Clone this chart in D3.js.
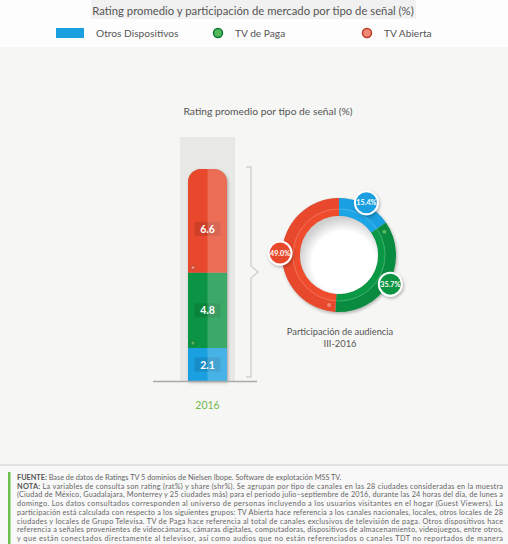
<!DOCTYPE html>
<html>
<head>
<meta charset="utf-8">
<script src="https://cdn.jsdelivr.net/npm/d3@7"></script>
<style>
body { margin: 0; background: #fff; }
svg { display: block; font-family: Lato, "Open Sans", sans-serif; }
</style>
</head>
<body>
<script>
var w = 508;
var h = 544;

// data
var seriesNames = ["Otros Dispositivos", "TV de Paga", "TV Abierta"];
var seriesColors = ["#1a9fe0", "#0b9443", "#e8492c"];
var dotColors = ["#6cc4f0", "#54b85a", "#f08878"];
var years = ["2016"];
var rating = [2.1, 4.8, 6.6];
var share = [15.4, 35.7, 49.0];
var footLines = [
  ["FUENTE:", " Base de datos de Ratings TV 5 dominios de Nielsen Ibope. Software de explotación MSS TV."],
  ["NOTA:", " La variables de consulta son rating (rat%) y share (shr%). Se agrupan por tipo de canales en las 28 ciudades consideradas en la muestra"],
  ["", "(Ciudad de México, Guadalajara, Monterrey y 25 ciudades más) para el periodo julio–septiembre de 2016, durante las 24 horas del día, de lunes a"],
  ["", "domingo. Los datos consultados corresponden al universo de personas incluyendo a los usuarios visitantes en el hogar (Guest Viewers). La"],
  ["", "participación está calculada con respecto a los siguientes grupos: TV Abierta hace referencia a los canales nacionales, locales, otros locales de 28"],
  ["", "ciudades y locales de Grupo Televisa. TV de Paga hace referencia al total de canales exclusivos de televisión de paga. Otros dispositivos hace"],
  ["", "referencia a señales provenientes de videocámaras, cámaras digitales, computadoras, dispositivos de almacenamiento, videojuegos, entre otros,"],
  ["", "y que están conectados directamente al televisor, así como audios que no están referenciados o canales TDT no reportados de manera"]
];

var svg = d3.select("body")
  .append("svg")
  .attr("width", w)
  .attr("height", h);

var defs = svg.append("defs");
var sh = defs.append("filter").attr("id", "shadow")
  .attr("x", "-30%").attr("y", "-30%").attr("width", "160%").attr("height", "160%");
sh.append("feDropShadow").attr("dx", 1).attr("dy", 1.5).attr("stdDeviation", 1.5)
  .attr("flood-color", "#000").attr("flood-opacity", 0.3);

var hole = defs.append("radialGradient").attr("id", "hole")
  .attr("cx", "56%").attr("cy", "60%").attr("r", "58%");
hole.append("stop").attr("offset", "0.7").attr("stop-color", "#ffffff");
hole.append("stop").attr("offset", "1").attr("stop-color", "#cfcfcf");

// backgrounds
svg.append("rect").attr("width", w).attr("height", h).attr("fill", "#fdfdfd");
svg.append("rect").attr("x", 91).attr("y", 0).attr("width", 325).attr("height", 19).attr("fill", "#f1f1f1");
svg.append("rect").attr("x", 0).attr("y", 47).attr("width", w).attr("height", 417).attr("fill", "#f6f6f4");
svg.append("rect").attr("x", 0).attr("y", 464).attr("width", w).attr("height", 2).attr("fill", "#e2e2e2");
svg.append("rect").attr("x", 0).attr("y", 466).attr("width", w).attr("height", 78).attr("fill", "#f8f8f8");

svg.append("text")
  .attr("x", 253).attr("y", 15)
  .attr("text-anchor", "middle")
  .attr("font-size", 11.3)
  .attr("fill", "#555")
  .text("Rating promedio y participación de mercado por tipo de señal (%)");

// legend
var legX = [56, 213, 362];
var leg = svg.selectAll(".leg")
  .data(seriesNames)
  .enter()
  .append("g")
  .attr("transform", function(d, i){ return "translate(" + legX[i] + ",33)"; });
leg.each(function(d, i){
  var g = d3.select(this);
  if(i == 0){
    g.append("rect").attr("x", 0).attr("y", -5).attr("width", 28).attr("height", 10).attr("fill", seriesColors[i]);
  } else {
    g.append("circle").attr("cx", 5).attr("cy", 0).attr("r", 4.5)
      .attr("fill", dotColors[i]).attr("stroke", d3.color(seriesColors[i]).darker(0.6)).attr("stroke-width", 1.5);
  }
  g.append("text").attr("x", i == 0 ? 40 : 22).attr("y", 3.5)
    .attr("font-size", 10.2).attr("fill", "#555").text(d);
});

svg.append("text")
  .attr("x", 268).attr("y", 115)
  .attr("text-anchor", "middle")
  .attr("font-size", 10.3)
  .attr("fill", "#555")
  .text("Rating promedio por tipo de señal (%)");

// stacked bar
var total = d3.sum(rating);
var y = d3.scaleLinear().domain([0, total]).range([381, 169]);
var x = d3.scaleBand().domain(years).range([180, 235]);
var inset = 8;
var bx = x(years[0]) + inset;
var bw = x.bandwidth() - 2*inset;
var rad = 13;

svg.append("rect")
  .attr("x", x(years[0])).attr("y", 137)
  .attr("width", x.bandwidth()).attr("height", 381 - 137)
  .attr("fill", "#e8e8e7");

var stackData = [];
var cum = 0;
for(var i = 0; i<rating.length; i++){
  stackData.push({v: rating[i], y0: cum, y1: cum + rating[i], i: i});
  cum += rating[i];
}

var shape = "M" + bx + "," + y(0) +
  "V" + (y(total) + rad) +
  "A" + rad + "," + rad + " 0 0 1 " + (bx + rad) + "," + y(total) +
  "H" + (bx + bw - rad) +
  "A" + rad + "," + rad + " 0 0 1 " + (bx + bw) + "," + (y(total) + rad) +
  "V" + y(0) + "Z";
defs.append("clipPath").attr("id", "barclip").append("path").attr("d", shape);

svg.append("path").attr("d", shape).attr("fill", "#999").attr("filter", "url(#shadow)");

var bar = svg.append("g").attr("clip-path", "url(#barclip)");
bar.selectAll(".seg")
  .data(stackData)
  .enter()
  .append("rect")
  .attr("x", bx)
  .attr("y", function(d){ return y(d.y1); })
  .attr("width", bw)
  .attr("height", function(d){ return y(d.y0) - y(d.y1); })
  .attr("fill", function(d){ return seriesColors[d.i]; });

function labelY(d){
  var m = y((d.y0 + d.y1)/2);
  return d.i == stackData.length - 1 ? m + 8 : m;
}

bar.selectAll(".lbox")
  .data(stackData)
  .enter()
  .append("rect")
  .attr("x", bx + bw/2 - 13)
  .attr("y", function(d){ return labelY(d) - 7; })
  .attr("width", 26)
  .attr("height", 14)
  .attr("fill", function(d){ return d3.color(seriesColors[d.i]).darker(0.35); });

bar.append("rect")
  .attr("x", bx + bw/2).attr("y", y(total))
  .attr("width", bw/2).attr("height", y(0) - y(total))
  .attr("fill", "#fff").attr("opacity", 0.2);

bar.selectAll(".dot")
  .data(stackData.filter(function(d){ return d.i > 0; }))
  .enter()
  .append("circle")
  .attr("cx", bx + 5)
  .attr("cy", function(d){ return y(d.y0) - 5; })
  .attr("r", 2.2)
  .attr("fill", function(d){ return dotColors[d.i]; })
  .attr("stroke", function(d){ return d3.color(seriesColors[d.i]).darker(0.8); })
  .attr("stroke-width", 0.8);

svg.selectAll(".val")
  .data(stackData)
  .enter()
  .append("text")
  .attr("x", bx + bw/2)
  .attr("y", function(d){ return labelY(d) + 4; })
  .attr("text-anchor", "middle")
  .attr("font-size", 10.5)
  .attr("font-weight", "bold")
  .attr("fill", "#fff")
  .text(function(d){ return d.v.toFixed(1); });

svg.append("line")
  .attr("x1", 153).attr("x2", 257)
  .attr("y1", y(0) + 0.5).attr("y2", y(0) + 0.5)
  .attr("stroke", "#aaa").attr("stroke-width", 1.5);

svg.append("text")
  .attr("x", x(years[0]) + x.bandwidth()/2).attr("y", 409)
  .attr("text-anchor", "middle")
  .attr("font-size", 10.5)
  .attr("fill", "#72b84a")
  .text(years[0]);

// bracket
var bk = y(total) - 2, bb = y(0) - 4, bm = (bk + bb)/2;
svg.append("path")
  .attr("d", "M246," + bk + "H251V" + (bm - 6) + "L258," + bm + "L251," + (bm + 6) + "V" + bb + "H246")
  .attr("fill", "none").attr("stroke", "#d2d2d2").attr("stroke-width", 1.5);

// donut
var cx = 339, cy = 255;
var pie = d3.pie().sort(null).value(function(d){ return d; });
var arcs = pie(share);
var outer = d3.arc().innerRadius(46).outerRadius(57);
var innerBand = d3.arc().innerRadius(39).outerRadius(46.5);
var dg = svg.append("g").attr("transform", "translate(" + cx + "," + cy + ")");

dg.append("circle").attr("r", 57).attr("fill", "#bbb").attr("filter", "url(#shadow)");
dg.selectAll(".arc")
  .data(arcs)
  .enter()
  .append("path")
  .attr("d", outer)
  .attr("fill", function(d, i){ return d3.color(seriesColors[i]).darker(i == 1 ? 0.15 : 0); });
dg.selectAll(".arcin")
  .data(arcs)
  .enter()
  .append("path")
  .attr("d", innerBand)
  .attr("fill", function(d, i){ return d3.color(seriesColors[i]).brighter(0.08); });
dg.append("circle").attr("r", 46).attr("fill", "none").attr("stroke", "#fff").attr("stroke-opacity", 0.2);
dg.append("circle").attr("r", 39).attr("fill", "url(#hole)");

dg.selectAll(".adot")
  .data(arcs.filter(function(d){ return d.index > 0; }))
  .enter()
  .append("circle")
  .attr("cx", function(d){ return 51 * Math.sin(d.startAngle + 0.13); })
  .attr("cy", function(d){ return -51 * Math.cos(d.startAngle + 0.13); })
  .attr("r", 2)
  .attr("fill", function(d){ return dotColors[d.index]; });

var lab = dg.selectAll(".plab")
  .data(arcs)
  .enter()
  .append("g")
  .attr("transform", function(d){
    var a = (d.startAngle + d.endAngle)/2;
    return "translate(" + (59 * Math.sin(a)) + "," + (-59 * Math.cos(a)) + ")";
  });
lab.append("circle")
  .attr("r", 11.5)
  .attr("fill", function(d){ return seriesColors[d.index]; })
  .attr("stroke", "#fff").attr("stroke-width", 2)
  .attr("filter", "url(#shadow)");
lab.append("text")
  .attr("y", 2.7)
  .attr("text-anchor", "middle")
  .attr("font-size", 7.2)
  .attr("font-weight", "bold")
  .attr("fill", "#fff")
  .text(function(d){ return d.data.toFixed(1) + "%"; });

svg.append("text")
  .attr("x", 340).attr("y", 335)
  .attr("text-anchor", "middle")
  .attr("font-size", 9.3).attr("fill", "#555")
  .text("Participación de audiencia");
svg.append("text")
  .attr("x", 340).attr("y", 347)
  .attr("text-anchor", "middle")
  .attr("font-size", 9.3).attr("fill", "#555")
  .text("III-2016");

// footer
var footW = 486;
svg.append("rect").attr("x", 8).attr("y", 472).attr("width", 2.5).attr("height", 72).attr("fill", "#6cc04a");
var ft = svg.selectAll(".foot")
  .data(footLines)
  .enter()
  .append("text")
  .attr("x", 17)
  .attr("y", function(d, i){ return 480 + i*8.7; })
  .attr("font-size", 7.3)
  .attr("fill", "#666");
ft.append("tspan").attr("font-weight", "bold").attr("fill", "#555").text(function(d){ return d[0]; });
ft.append("tspan").text(function(d){ return d[1]; });
ft.each(function(d, i){
  var t = d3.select(this);
  var len = this.getComputedTextLength();
  if(len > footW){
    t.attr("font-size", 7.3 * footW / len);
  } else if(i > 0){
    t.attr("textLength", footW).attr("lengthAdjust", "spacing");
  }
});
</script>
</body>
</html>
